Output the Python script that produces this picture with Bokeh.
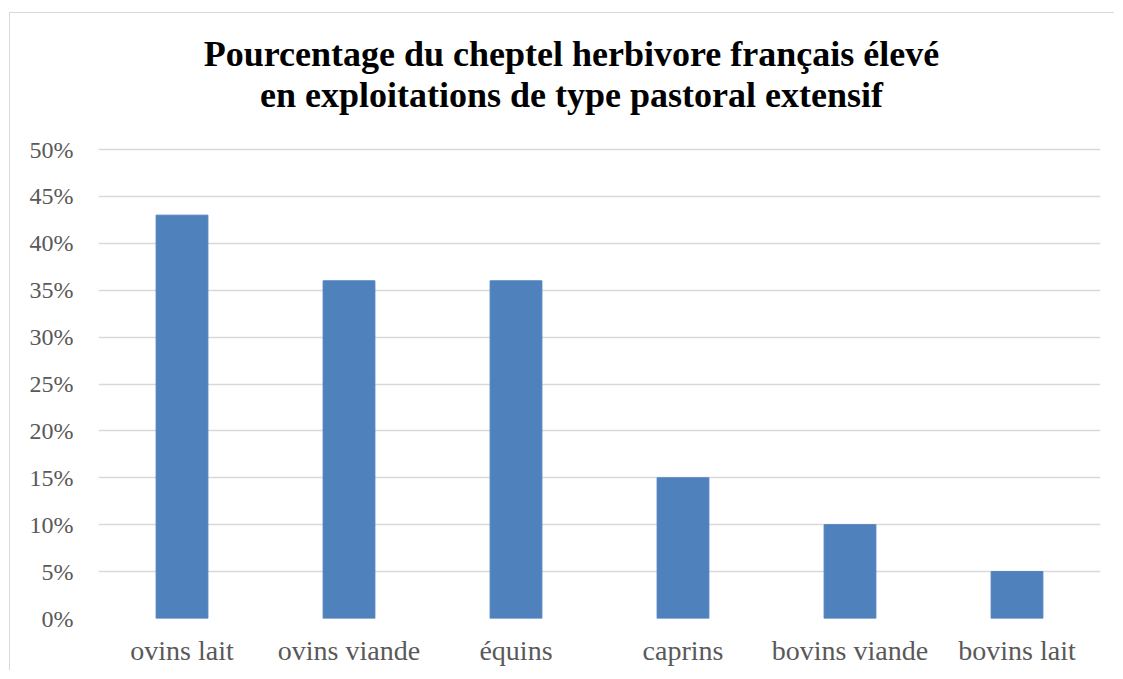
from bokeh.plotting import figure
from bokeh.models import FactorRange, Range1d, PrintfTickFormatter, FixedTicker, Label, ColumnDataSource
from bokeh.embed import file_html
from bokeh.resources import INLINE

categories = ["ovins lait", "ovins viande", "équins", "caprins", "bovins viande", "bovins lait"]
values = [43, 36, 36, 15, 10, 5]
y_ticks = [0, 5, 10, 15, 20, 25, 30, 35, 40, 45, 50]
title_lines = ["Pourcentage du cheptel herbivore français élevé",
               "en exploitations de type pastoral extensif"]

FONT = "Liberation Serif"
GRAY = "#595959"

src = ColumnDataSource(dict(cat=categories, val=values))

# The frame is extended upward so the two-line title sits inside it (above 50 %).
p = figure(x_range=FactorRange(factors=categories), y_range=Range1d(0, 64.5),
           width=1105, height=658, output_backend="svg", toolbar_location=None,
           min_border_left=88, min_border_right=15, min_border_top=0, min_border_bottom=53)
p.margin = (12, 0, 0, 9)
p.styles = {"border-left": "1px solid #d9d9d9", "border-top": "1px solid #d9d9d9"}

p.vbar(x="cat", top="val", width=0.31, source=src, fill_color="#4f81bd", line_color="#4f81bd")

p.outline_line_color = None
p.xgrid.grid_line_color = None
p.ygrid.grid_line_color = "#d9d9d9"
p.ygrid.grid_line_width = 1.5

p.yaxis.ticker = FixedTicker(ticks=y_ticks)
p.yaxis.formatter = PrintfTickFormatter(format="%d%%")
for ax in (p.xaxis, p.yaxis):
    ax.axis_line_color = None
    ax.major_tick_line_color = None
    ax.minor_tick_line_color = None
    ax.major_label_text_font = FONT
    ax.major_label_text_color = GRAY
    ax.major_label_text_font_size = "24px"
p.yaxis.major_label_standoff = 19
p.xaxis.major_label_standoff = 10
p.xaxis.major_label_text_font_size = "28px"

for txt, yv in zip(title_lines, [60.2, 55.85]):
    p.add_layout(Label(x=2.832, y=yv, text=txt, text_align="center", text_baseline="alphabetic",
                       text_font=FONT, text_font_style="bold", text_font_size="36px",
                       text_color="#000000"))

open("out.html", "w").write(file_html(p, INLINE))
